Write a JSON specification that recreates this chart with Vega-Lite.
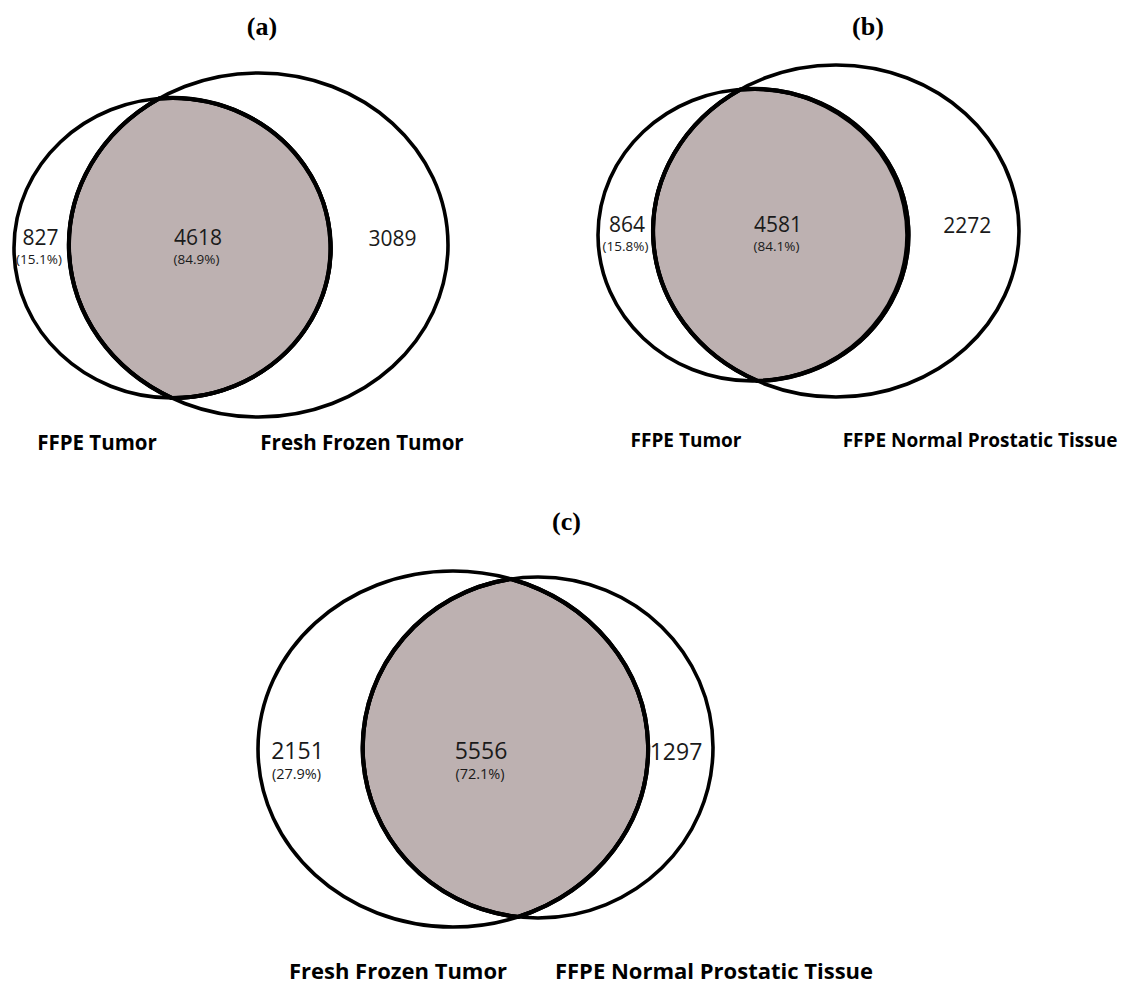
{
  "$schema": "https://vega.github.io/schema/vega-lite/v6.json",
  "width": 1137,
  "height": 987,
  "autosize": {"type": "fit", "contains": "padding"},
  "padding": 0,
  "background": "white",
  "config": {"view": {"stroke": null}},
  "datasets": {
    "sets": [
      {"panel": "a", "id": "a1", "set": "FFPE Tumor", "cx": 172.5, "cy": 248, "lx": 97, "ly": 444},
      {"panel": "a", "id": "a2", "set": "Fresh Frozen Tumor", "cx": 258.5, "cy": 245, "lx": 362, "ly": 444},
      {"panel": "b", "id": "b1", "set": "FFPE Tumor", "cx": 752.5, "cy": 235, "lx": 686, "ly": 441},
      {"panel": "b", "id": "b2", "set": "FFPE Normal Prostatic Tissue", "cx": 836, "cy": 231, "lx": 980, "ly": 441},
      {"panel": "c", "id": "c1", "set": "Fresh Frozen Tumor", "cx": 453, "cy": 749, "lx": 398, "ly": 972},
      {"panel": "c", "id": "c2", "set": "FFPE Normal Prostatic Tissue", "cx": 538, "cy": 747.5, "lx": 714, "ly": 972}
    ],
    "overlaps": [
      {"panel": "a", "cx": 172.5, "cy": 248},
      {"panel": "b", "cx": 752.5, "cy": 235},
      {"panel": "c", "cx": 453, "cy": 749}
    ],
    "counts": [
      {"panel": "a", "region": "FFPE Tumor only", "count": 827, "pct": 15.1, "x": 40.5, "y": 238.5},
      {"panel": "a", "region": "both", "count": 4618, "pct": 84.9, "x": 198, "y": 238.5},
      {"panel": "a", "region": "Fresh Frozen Tumor only", "count": 3089, "pct": null, "x": 392.5, "y": 240},
      {"panel": "b", "region": "FFPE Tumor only", "count": 864, "pct": 15.8, "x": 627, "y": 225.5},
      {"panel": "b", "region": "both", "count": 4581, "pct": 84.1, "x": 778, "y": 225.5},
      {"panel": "b", "region": "FFPE Normal Prostatic Tissue only", "count": 2272, "pct": null, "x": 967.3, "y": 226.5},
      {"panel": "c", "region": "Fresh Frozen Tumor only", "count": 2151, "pct": 27.9, "x": 297.5, "y": 751.5},
      {"panel": "c", "region": "both", "count": 5556, "pct": 72.1, "x": 481, "y": 751.5},
      {"panel": "c", "region": "FFPE Normal Prostatic Tissue only", "count": 1297, "pct": null, "x": 676, "y": 753}
    ],
    "titles": [
      {"panel": "a", "label": "(a)", "x": 262, "y": 27},
      {"panel": "b", "label": "(b)", "x": 868, "y": 27},
      {"panel": "c", "label": "(c)", "x": 566.5, "y": 522}
    ]
  },
  "resolve": {"scale": {"shape": "independent", "size": "independent"}},
  "layer": [
    {
      "data": {"name": "overlaps"},
      "mark": {"type": "point", "filled": true, "fill": "#bdb1b1", "stroke": "black", "strokeWidth": 4, "opacity": 1, "size": 4},
      "encoding": {
        "x": {"field": "cx", "type": "quantitative", "scale": {"domain": [0, 1137], "nice": false, "zero": false}, "axis": null},
        "y": {"field": "cy", "type": "quantitative", "scale": {"domain": [0, 987], "nice": false, "zero": false, "reverse": true}, "axis": null},
        "shape": {
          "field": "panel", "type": "nominal", "legend": null,
          "scale": {
            "domain": ["a", "b", "c"],
            "range": [
              "M-13.4,-149.5A158.5,150 0 1 1 -0.7,150A189.5,172 0 0 1 -13.4,-149.5Z",
              "M-12.1,-145.5A154.5,146 0 1 1 4.9,145.9A183,166 0 0 1 -12.1,-145.5Z",
              "M57.9,-170A195,178 0 0 1 64.9,167.9A175,170.5 0 0 1 57.9,-170Z"
            ]
          }
        }
      }
    },
    {
      "data": {"name": "sets"},
      "mark": {"type": "point", "filled": false, "stroke": "black", "strokeWidth": 3.6, "opacity": 1, "size": 4},
      "encoding": {
        "x": {"field": "cx", "type": "quantitative", "scale": {"domain": [0, 1137], "nice": false, "zero": false}, "axis": null},
        "y": {"field": "cy", "type": "quantitative", "scale": {"domain": [0, 987], "nice": false, "zero": false, "reverse": true}, "axis": null},
        "shape": {
          "field": "id", "type": "nominal", "legend": null,
          "scale": {
            "domain": ["a1", "a2", "b1", "b2", "c1", "c2"],
            "range": [
              "M-158.5,0A158.5,150 0 1 1 158.5,0A158.5,150 0 1 1 -158.5,0Z",
              "M-189.5,0A189.5,172 0 1 1 189.5,0A189.5,172 0 1 1 -189.5,0Z",
              "M-154.5,0A154.5,146 0 1 1 154.5,0A154.5,146 0 1 1 -154.5,0Z",
              "M-183,0A183,166 0 1 1 183,0A183,166 0 1 1 -183,0Z",
              "M-195,0A195,178 0 1 1 195,0A195,178 0 1 1 -195,0Z",
              "M-175,0A175,170.5 0 1 1 175,0A175,170.5 0 1 1 -175,0Z"
            ]
          }
        }
      }
    },
    {
      "data": {"name": "overlaps"},
      "mark": {"type": "point", "filled": false, "stroke": "black", "strokeWidth": 4.2, "opacity": 1, "size": 4},
      "encoding": {
        "x": {"field": "cx", "type": "quantitative", "scale": {"domain": [0, 1137], "nice": false, "zero": false}, "axis": null},
        "y": {"field": "cy", "type": "quantitative", "scale": {"domain": [0, 987], "nice": false, "zero": false, "reverse": true}, "axis": null},
        "shape": {
          "field": "panel", "type": "nominal", "legend": null,
          "scale": {
            "domain": ["a", "b", "c"],
            "range": [
              "M-13.4,-149.5A158.5,150 0 1 1 -0.7,150A189.5,172 0 0 1 -13.4,-149.5Z",
              "M-12.1,-145.5A154.5,146 0 1 1 4.9,145.9A183,166 0 0 1 -12.1,-145.5Z",
              "M57.9,-170A195,178 0 0 1 64.9,167.9A175,170.5 0 0 1 57.9,-170Z"
            ]
          }
        }
      }
    },
    {
      "data": {"name": "counts"},
      "mark": {"type": "text", "font": "Open Sans", "fontWeight": "normal", "color": "#1a1a1a", "align": "center", "baseline": "middle"},
      "encoding": {
        "x": {"field": "x", "type": "quantitative", "scale": {"domain": [0, 1137], "nice": false, "zero": false}, "axis": null},
        "y": {"field": "y", "type": "quantitative", "scale": {"domain": [0, 987], "nice": false, "zero": false, "reverse": true}, "axis": null},
        "text": {"field": "count", "type": "quantitative", "format": "d"},
        "size": {"field": "panel", "type": "nominal", "legend": null, "scale": {"type": "ordinal", "domain": ["a", "b", "c"], "range": [21, 21, 23]}}
      }
    },
    {
      "data": {"name": "counts"},
      "transform": [
        {"filter": "datum.pct != null && datum.panel != 'c'"},
        {"calculate": "'(' + format(datum.pct, '.1f') + '%)'", "as": "pctLabel"}
      ],
      "mark": {"type": "text", "font": "Open Sans", "fontWeight": "normal", "fontSize": 13.5, "color": "#1a1a1a", "align": "center", "baseline": "middle", "dy": 21, "dx": -1.5},
      "encoding": {
        "x": {"field": "x", "type": "quantitative", "scale": {"domain": [0, 1137], "nice": false, "zero": false}, "axis": null},
        "y": {"field": "y", "type": "quantitative", "scale": {"domain": [0, 987], "nice": false, "zero": false, "reverse": true}, "axis": null},
        "text": {"field": "pctLabel", "type": "nominal"}
      }
    },
    {
      "data": {"name": "counts"},
      "transform": [
        {"filter": "datum.pct != null && datum.panel == 'c'"},
        {"calculate": "'(' + format(datum.pct, '.1f') + '%)'", "as": "pctLabel"}
      ],
      "mark": {"type": "text", "font": "Open Sans", "fontWeight": "normal", "fontSize": 14.5, "color": "#1a1a1a", "align": "center", "baseline": "middle", "dy": 23, "dx": -1},
      "encoding": {
        "x": {"field": "x", "type": "quantitative", "scale": {"domain": [0, 1137], "nice": false, "zero": false}, "axis": null},
        "y": {"field": "y", "type": "quantitative", "scale": {"domain": [0, 987], "nice": false, "zero": false, "reverse": true}, "axis": null},
        "text": {"field": "pctLabel", "type": "nominal"}
      }
    },
    {
      "data": {"name": "sets"},
      "mark": {"type": "text", "font": "Open Sans", "fontWeight": "bold", "color": "black", "align": "center", "baseline": "middle"},
      "encoding": {
        "x": {"field": "lx", "type": "quantitative", "scale": {"domain": [0, 1137], "nice": false, "zero": false}, "axis": null},
        "y": {"field": "ly", "type": "quantitative", "scale": {"domain": [0, 987], "nice": false, "zero": false, "reverse": true}, "axis": null},
        "text": {"field": "set", "type": "nominal"},
        "size": {"field": "panel", "type": "nominal", "legend": null, "scale": {"type": "ordinal", "domain": ["a", "b", "c"], "range": [20.5, 19, 22]}}
      }
    },
    {
      "data": {"name": "titles"},
      "mark": {"type": "text", "font": "Liberation Serif", "fontWeight": "bold", "fontSize": 26, "color": "black", "align": "center", "baseline": "middle"},
      "encoding": {
        "x": {"field": "x", "type": "quantitative", "scale": {"domain": [0, 1137], "nice": false, "zero": false}, "axis": null},
        "y": {"field": "y", "type": "quantitative", "scale": {"domain": [0, 987], "nice": false, "zero": false, "reverse": true}, "axis": null},
        "text": {"field": "label", "type": "nominal"}
      }
    }
  ]
}
